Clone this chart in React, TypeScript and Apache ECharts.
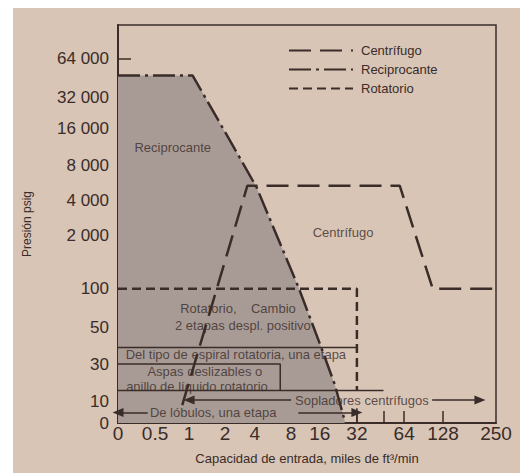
import React, { useEffect, useRef } from 'react';
import * as echarts from 'echarts';

// ---- Axis definitions (schematic, non-uniform scales as in the source figure)
const X_TICK_VALUES = [0, 0.5, 1, 2, 4, 8, 16, 32, 64, 128, 250];
const X_TICK_LABELS = ['0', '0.5', '1', '2', '4', '8', '16', '32', '64', '128', '250'];
const X_TICK_SLOTS = [0, 9.8, 18.8, 28.3, 36.2, 45.8, 53.4, 63.2, 75.7, 86.0, 100];
const X_EXTRA_TICKS = [50];

const Y_TICK_VALUES = [0, 10, 30, 50, 100, 2000, 4000, 8000, 16000, 32000, 64000];
const Y_TICK_LABELS = ['0', '10', '30', '50', '100', '2 000', '4 000', '8 000', '16 000', '32 000', '64 000'];
const Y_TICK_SLOTS = [0, 5.3, 14.8, 24.1, 33.7, 47.0, 55.8, 64.8, 73.9, 81.9, 91.5];
const Y_EXTRA_TICKS = [40];

// ---- Series (capacity in thousands of ft3/min, pressure in psig)
const RECIP_X = [0, 1.1, 3.1, 4.2, 10, 16, 22.5, 27];
const RECIP_Y = [50000, 50000, 9000, 5500, 170, 41, 19, 0];

const CENTRI_X = [0.9, 3.5, 61, 111, 250];
const CENTRI_Y = [8.5, 5700, 5700, 100, 100];

const ROTAT_X = [0, 32, 32];
const ROTAT_Y = [100, 100, 16];

// band boundary lines (x, y pairs in data units)
const BAND_SEGMENTS = [
  [[0, 39], [32, 39]],
  [[0, 30], [6.8, 30], [6.8, 16]],
  [[0, 16], [50, 16]],
  [[32, 0], [32, 7]],
];

// arrows: from -> to (arrow head at "to")
const ARROWS = [
  { from: [8, 11], to: [1, 11] },
  { from: [110, 11], to: [213, 11] },
  { from: [0.4, 5], to: [0, 5] },
  { from: [10, 5], to: [32, 5] },
];

const NOTES = [
  { text: 'Reciprocante', x: 0.76, y: 11800 },
  { text: 'Centrífugo', x: 26, y: 2170 },
  { text: 'Rotatorio,    Cambio', x: 2.87, y: 74 },
  { text: '2 etapas despl. positivo', x: 3.2, y: 52.6 },
  { text: 'Del tipo de espiral rotatoria, una etapa', x: 2.73, y: 35.4 },
  { text: 'Aspas deslizables o', x: 1.44, y: 26.3 },
  { text: 'anillo de líquido rotatorio', x: 1.22, y: 17.9 },
  { text: 'Sopladores centrífugos', x: 35.4, y: 11 },
  { text: 'De lóbulos, una etapa', x: 1.67, y: 5 },
];

function interp(v: number, vals: number[], slots: number[]) {
  if (v <= vals[0]) return slots[0];
  for (let i = 1; i < vals.length; i++) {
    if (v <= vals[i]) {
      const t = (v - vals[i - 1]) / (vals[i] - vals[i - 1]);
      return slots[i - 1] + t * (slots[i] - slots[i - 1]);
    }
  }
  return slots[slots.length - 1];
}
const fx = (v: number) => interp(v, X_TICK_VALUES, X_TICK_SLOTS);
const fy = (v: number) => interp(v, Y_TICK_VALUES, Y_TICK_SLOTS);
const pt = (x: number, y: number) => [fx(x), fy(y)];

const INK = '#3a2c29';
const GRAY = '#a89b95';
const BG = '#d8c5b6';
const FONT = '"Liberation Sans", Arial, Helvetica, sans-serif';

export default function App() {
  const ref = useRef<HTMLDivElement>(null);
  useEffect(() => {
    if (!ref.current) return;
    const chart = echarts.init(ref.current, undefined, { renderer: 'svg' });

    const xLabelMap: Record<string, string> = {};
    X_TICK_SLOTS.forEach((s, i) => (xLabelMap[s.toFixed(3)] = X_TICK_LABELS[i]));
    const yLabelMap: Record<string, string> = {};
    Y_TICK_SLOTS.forEach((s, i) => (yLabelMap[s.toFixed(3)] = Y_TICK_LABELS[i]));

    const bandData: any[] = [];
    BAND_SEGMENTS.forEach((seg, i) => {
      if (i > 0) bandData.push(['-', '-']);
      seg.forEach(([x, y]) => bandData.push(pt(x, y)));
    });

    const option: any = {
      animation: false,
      backgroundColor: BG,
      textStyle: { fontFamily: FONT, color: INK },
      grid: {
        left: 118, right: 24, top: 25, bottom: 50,
        show: true, borderColor: INK, borderWidth: 1.5, backgroundColor: 'transparent',
        containLabel: false, outerBoundsMode: 'none',
      },
      legend: {
        orient: 'vertical', left: 283, top: 39,
        itemWidth: 64, itemHeight: 14, itemGap: 6,
        selectedMode: false,
        itemStyle: { opacity: 0 },
        data: ['Centrífugo', 'Reciprocante', 'Rotatorio'],
        textStyle: { fontSize: 13, color: INK, fontFamily: FONT, padding: [0, 0, 0, 3] },
      },
      xAxis: {
        type: 'value', min: 0, max: 100,
        name: 'Capacidad de entrada, miles de ft³/min',
        nameLocation: 'middle', nameGap: 29,
        nameTextStyle: { fontSize: 13, color: INK, fontFamily: FONT },
        axisLine: { show: true, lineStyle: { color: INK, width: 2 } },
        axisTick: {
          show: true, inside: true, length: 12, lineStyle: { color: INK, width: 1.5 },
          customValues: [...X_TICK_SLOTS.slice(1, -1), ...X_EXTRA_TICKS.map(fx)],
        },
        axisLabel: {
          customValues: X_TICK_SLOTS, margin: 1, fontSize: 19, color: INK, fontFamily: FONT,
          formatter: (v: number) => xLabelMap[v.toFixed(3)] ?? '',
        },
        splitLine: { show: false },
      },
      yAxis: {
        type: 'value', min: 0, max: 100,
        name: 'Presión psig',
        nameLocation: 'middle', nameGap: 85,
        nameTextStyle: { fontSize: 12, color: INK, fontFamily: FONT },
        axisLine: { show: true, lineStyle: { color: INK, width: 2 } },
        axisTick: {
          show: true, inside: true, length: 13, lineStyle: { color: INK, width: 1.5 },
          customValues: [...Y_TICK_SLOTS.slice(1), ...Y_EXTRA_TICKS.map(fy)],
        },
        axisLabel: {
          customValues: Y_TICK_SLOTS, margin: 9, fontSize: 17, color: INK, fontFamily: FONT,
          formatter: (v: number) => yLabelMap[v.toFixed(3)] ?? '',
        },
        splitLine: { show: false },
      },
      graphic: [
        { type: 'rect', shape: { x: 0, y: 0, width: 13, height: 473 }, style: { fill: '#ffffff' }, z: 100 },
        { type: 'rect', shape: { x: 0, y: 0, width: 520, height: 8 }, style: { fill: '#ffffff' }, z: 100 },
      ],
      series: [
        {
          name: 'Reciprocante', type: 'line', z: 2,
          data: RECIP_X.map((x, i) => pt(x, RECIP_Y[i])),
          showSymbol: false, symbol: 'none',
          lineStyle: { color: INK, width: 2.5, type: [22, 5, 3, 5] },
          itemStyle: { color: INK },
          areaStyle: { color: GRAY, opacity: 1, origin: 'start' },
        },
        {
          name: 'Bandas', type: 'line', z: 3,
          data: bandData, connectNulls: false,
          showSymbol: false, symbol: 'none',
          lineStyle: { color: INK, width: 1.5, type: 'solid' },
        },
        {
          name: 'Rotatorio', type: 'line', z: 4,
          data: ROTAT_X.map((x, i) => pt(x, ROTAT_Y[i])),
          showSymbol: false, symbol: 'none',
          lineStyle: { color: INK, width: 2.5, type: [9, 5] },
          itemStyle: { color: INK },
        },
        {
          name: 'Centrífugo', type: 'line', z: 4,
          data: CENTRI_X.map((x, i) => pt(x, CENTRI_Y[i])),
          showSymbol: false, symbol: 'none',
          lineStyle: { color: INK, width: 2.5, type: [22, 9] },
          itemStyle: { color: INK },
        },
        {
          name: 'Notas', type: 'scatter', z: 6,
          symbolSize: 0.1,
          itemStyle: { color: 'transparent' },
          data: NOTES.map((n) => ({ name: n.text, value: pt(n.x, n.y) })),
          label: {
            show: true, position: 'inside', formatter: (p: any) => p.name,
            fontSize: 13, color: INK, fontFamily: FONT,
          },
          markLine: {
            silent: true, symbol: ['none', 'triangle'], symbolSize: [9, 11],
            label: { show: false },
            lineStyle: { color: INK, width: 1.5, type: 'solid' },
            data: ARROWS.map((a) => [
              { coord: pt(a.from[0], a.from[1]) },
              { coord: pt(a.to[0], a.to[1]) },
            ]),
          },
        },
      ],
    };
    chart.setOption(option);
    return () => chart.dispose();
  }, []);
  return <div ref={ref} style={{ position: 'fixed', left: 0, top: 0, width: 520, height: 473 }} />;
}
